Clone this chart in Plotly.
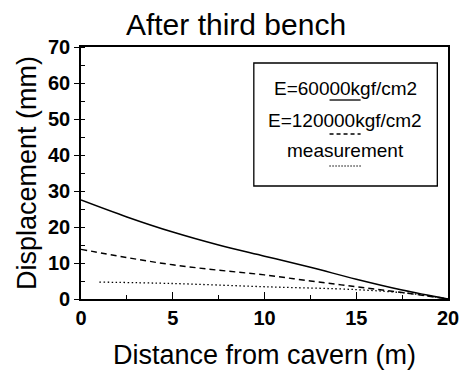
import plotly.graph_objects as go

# Data
x_e60 = [0, 2.5, 5, 7.5, 10, 12.5, 15, 17.5, 20]
y_e60 = [27.5, 22.8, 18.6, 15.0, 11.9, 8.8, 5.5, 2.5, 0.0]

x_e120 = [0, 2.5, 5, 7.5, 10, 12.5, 15, 17.5, 20]
y_e120 = [13.8, 11.5, 9.5, 8.0, 6.7, 5.0, 3.4, 1.8, 0.0]

x_meas = [1, 5, 10, 15, 18, 20]
y_meas = [4.7, 4.3, 3.4, 2.6, 1.5, 0.0]

legend_labels = ["E=60000kgf/cm2", "E=120000kgf/cm2", "measurement"]
legend_dashes = ["solid", "4px,3px", "1px,2px"]

x_ticks = [0, 5, 10, 15, 20]
y_ticks = [0, 10, 20, 30, 40, 50, 60, 70]

FONT = "Liberation Sans, Arial, sans-serif"

fig = go.Figure()
fig.add_trace(go.Scatter(x=x_e60, y=y_e60, mode="lines", line=dict(color="black", width=1.5, dash="solid", shape="spline"), showlegend=False))
fig.add_trace(go.Scatter(x=x_e120, y=y_e120, mode="lines", line=dict(color="black", width=1.4, dash="6px,4px", shape="spline"), showlegend=False))
fig.add_trace(go.Scatter(x=x_meas, y=y_meas, mode="lines", line=dict(color="black", width=1.3, dash="1.5px,2.5px", shape="spline"), showlegend=False))

# Custom legend box (text above a short line sample)
L, R, T, B = 81, 12, 47, 80
W, H = 471, 379
pw, ph = W - L - R, H - T - B

def px_to_paper(px, py):
    return (px - L) / pw, (H - B - py) / ph

x0, y0 = px_to_paper(259, 63)
x1, y1 = px_to_paper(448, 186)
fig.add_shape(type="rect", xref="paper", yref="paper", x0=x0, y0=y1, x1=x1, y1=y0,
              line=dict(color="black", width=1.3), fillcolor="white", layer="above")
text_y = [88, 121, 150]
line_y = [100, 134, 166]
for lab, dsh, ty, ly in zip(legend_labels, legend_dashes, text_y, line_y):
    cx, cy = px_to_paper(353, ty)
    fig.add_annotation(x=cx, y=cy, xref="paper", yref="paper", text=lab, showarrow=False,
                       font=dict(family=FONT, size=19, color="black"), xanchor="center", yanchor="middle")
    lx0, ly0 = px_to_paper(337, ly)
    lx1, _ = px_to_paper(369, ly)
    fig.add_shape(type="line", xref="paper", yref="paper", x0=lx0, x1=lx1, y0=ly0, y1=ly0,
                  line=dict(color="black", width=1.3, dash=dsh))

fig.update_layout(
    width=W, height=H,
    margin=dict(l=L, r=R, t=T, b=B),
    paper_bgcolor="white", plot_bgcolor="white",
    title=dict(text="After third bench", x=236 / W, xanchor="center", y=1 - 24 / H, yanchor="middle",
               font=dict(family=FONT, size=30, color="black")),
    font=dict(family=FONT, color="black"),
)
fig.update_xaxes(
    range=[0, 20], tickvals=x_ticks, ticks="inside", ticklen=7, tickwidth=1.2, tickcolor="black",
    minor=dict(dtick=2.5, ticks="inside", ticklen=4, tickcolor="black", tickwidth=1),
    showline=True, linecolor="black", linewidth=1.6, mirror=True, showgrid=False, zeroline=False,
    tickfont=dict(family=FONT, size=20, color="black", weight="bold"),
    title=dict(text="Distance from cavern (m)", font=dict(family=FONT, size=27, color="black"), standoff=17),
)
fig.update_yaxes(
    range=[0, 70], tickvals=y_ticks, ticks="outside", ticklen=5, tickwidth=1.2, tickcolor="black",
    minor=dict(dtick=5, ticks="inside", ticklen=4, tickcolor="black", tickwidth=1),
    showline=True, linecolor="black", linewidth=1.6, mirror=True, showgrid=False, zeroline=False,
    tickfont=dict(family=FONT, size=20, color="black", weight="bold"),
    title=dict(text="Displacement (mm)", font=dict(family=FONT, size=27, color="black"), standoff=4),
)
fig.write_html("out.html")
